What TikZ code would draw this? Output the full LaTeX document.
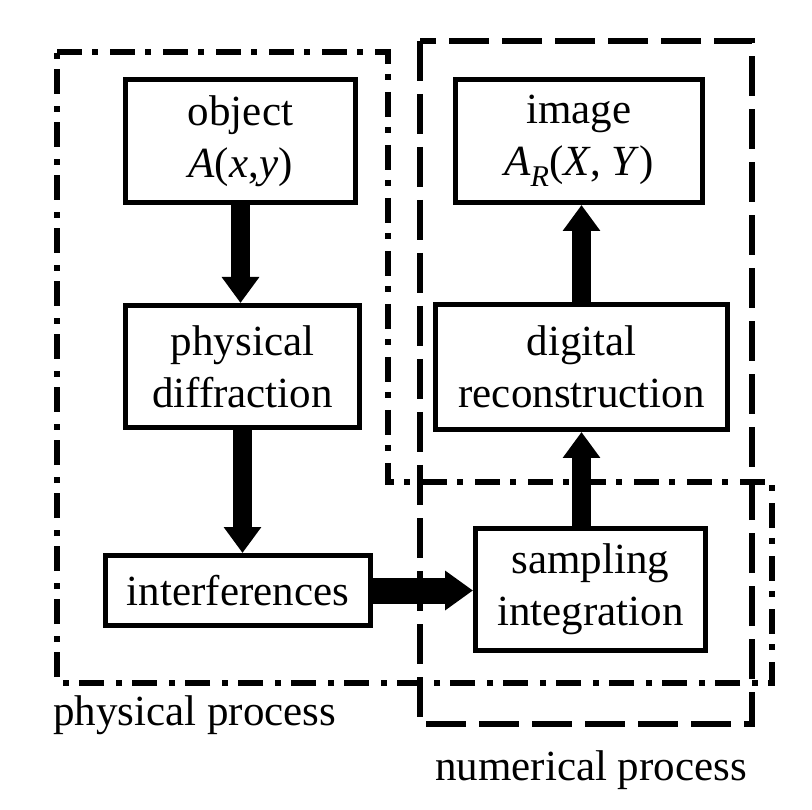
\documentclass[tikz,border=0pt]{standalone}
\usepackage{fontspec}
\setmainfont{Liberation Serif}
\usetikzlibrary{arrows.meta}
\begin{document}
\begin{tikzpicture}[x=1pt,y=-1pt,
  txt/.style={font={\fontsize{43}{52}\selectfont}},
  box/.style={txt, draw, line width=5pt, align=center, inner sep=0pt, fill=white},
  vbig/.style={line width=19pt, -{Triangle[width=36pt,length=26pt]}},
  hbig/.style={line width=26pt, -{Triangle[width=38pt,length=28pt]}},
  dashdotline/.style={line width=6pt, dash pattern=on 25pt off 10pt on 6pt off 12pt},
  dashline/.style={line width=6pt, dash pattern=on 40pt off 13pt}]
\useasboundingbox (0,0) rectangle (812,810);
% process boundaries
\draw[dashdotline] (57,52) -- (388,52) -- (388,482) -- (772,482) -- (772,683) -- (57,683) -- cycle;
\draw[dashline] (420,41) rectangle (752,724);
% boxes
\node[box, minimum width=230pt, minimum height=123pt] (obj) at (240.5,141) {object\\\textit{A}(\textit{x},\textit{y})};
\node[box, minimum width=234pt, minimum height=122pt] (diff) at (242.5,366.5) {physical\\diffraction};
\node[box, minimum width=265pt, minimum height=70pt] (intf) at (238,590.5) {interferences};
\node[box, minimum width=230pt, minimum height=122pt] (samp) at (590.5,589.5) {sampling\\integration};
\node[box, minimum width=292pt, minimum height=125pt] (digi) at (581.5,367) {digital\\reconstruction};
\node[box, minimum width=247pt, minimum height=123pt] (img) at (579,141) {image\\\textit{A}\textsubscript{\textit{R}}(\textit{X}, \textit{Y})};
% arrows
\draw[vbig] (obj.south) -- (obj.south |- diff.north);
\draw[vbig] (diff.south) -- (diff.south |- intf.north);
\draw[hbig] (intf.east) -- (intf.east -| samp.west);
\draw[vbig] (digi.south |- samp.north) -- (digi.south);
\draw[vbig] (digi.north) -- (digi.north |- img.south);
% labels
\node[txt, anchor=base west, inner sep=0pt] (lphys) at (53,725) {physical process};
\node[txt, anchor=base west, inner sep=0pt] (lnum) at (435,780) {numerical process};
\end{tikzpicture}
\end{document}
